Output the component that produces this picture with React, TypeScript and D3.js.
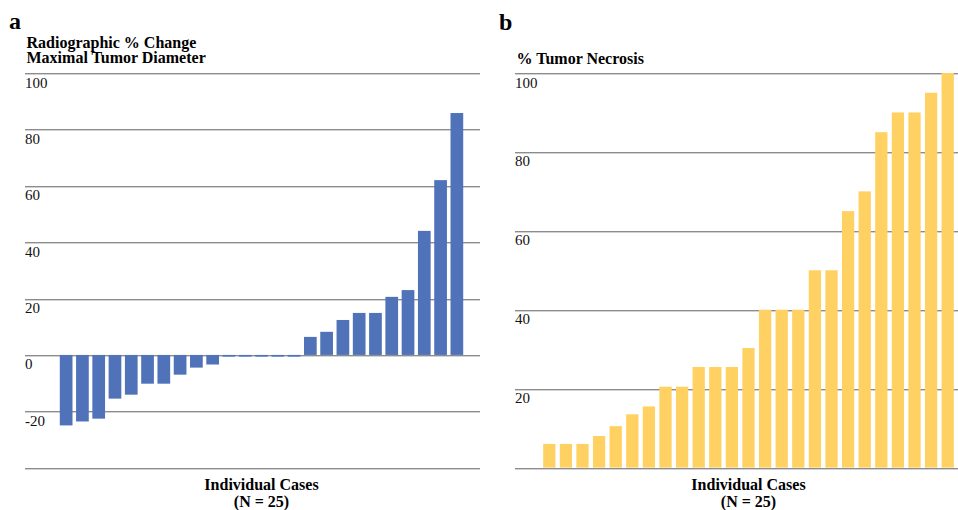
import * as d3 from 'd3';

// Panel a: radiographic % change in maximal tumor diameter, sorted
const changeValues = [
  -25, -23.6, -22.6, -15.5, -14.1, -10.2, -10.2, -7, -4.5, -3.4,
  -0.6, -0.6, -0.6, -0.6, -0.6, 6.4, 8.2, 12.4, 14.9, 14.9,
  20.6, 23, 44, 62, 85.8,
];
const changeTicks = [100, 80, 60, 40, 20, 0, -20];
const changeGrid = [100, 80, 60, 40, 20, 0, -20, -40];

// Panel b: % tumor necrosis, sorted
const necrosisValues = [
  6, 6, 6, 8, 10.5, 13.5, 15.5, 20.5, 20.5, 25.5,
  25.5, 25.5, 30.3, 40, 40, 40, 50, 50, 65, 70,
  85, 90, 90, 95, 100,
];
const necrosisTicks = [100, 80, 60, 40, 20];
const necrosisGrid = [100, 80, 60, 40, 20, 0];

const cases = d3.range(1, 26).map(String);

const FONT = '"Liberation Serif", "Times New Roman", serif';
const BLUE = '#4f72b8';
const YELLOW = '#fed162';

function GridLine({ x1, x2, y }: { x1: number; x2: number; y: number }) {
  const yy = Math.round(y);
  return (
    <g>
      <line x1={x1} x2={x2} y1={yy + 0.5} y2={yy + 0.5} stroke="#8c8c8c" strokeWidth={1} />
      <line x1={x1} x2={x2} y1={yy + 1.5} y2={yy + 1.5} stroke="#d2d2d2" strokeWidth={1} />
    </g>
  );
}

export default function App() {
  // scales for panel a
  const xA = d3.scaleBand<string>().domain(cases).range([58, 465]).paddingInner(0.22).paddingOuter(0.11);
  const yA = d3.scaleLinear().domain([-40, 100]).range([467.7, 73]);

  // scales for panel b
  const xB = d3.scaleBand<string>().domain(cases).range([541, 956]).paddingInner(0.26).paddingOuter(0.13);
  const yB = d3.scaleLinear().domain([0, 100]).range([467.6, 73]);

  const centerA = (58 + 465) / 2;
  const centerB = (541 + 956) / 2;

  return (
    <svg
      width={958}
      height={510}
      style={{ position: 'absolute', left: 0, top: 0, background: '#fff' }}
      fontFamily={FONT}
    >
      {/* panel a */}
      <text x={9} y={29} fontSize={24} fontWeight="bold">a</text>
      <text x={26.5} y={47.5} fontSize={16} fontWeight="bold">Radiographic % Change</text>
      <text x={26.5} y={63} fontSize={16} fontWeight="bold">Maximal Tumor Diameter</text>
      {changeGrid.map((t) => (
        <GridLine key={t} x1={25} x2={480} y={yA(t)} />
      ))}
      {changeTicks.map((t) => (
        <text key={t} x={25} y={yA(t) + 14.5} fontSize={15} fill="#111">{t}</text>
      ))}
      {changeValues.map((v, i) => (
        <rect
          key={i}
          x={xA(cases[i])}
          y={yA(Math.max(0, v))}
          width={xA.bandwidth()}
          height={Math.abs(yA(v) - yA(0))}
          fill={BLUE}
        />
      ))}
      <text x={centerA} y={490} fontSize={16} fontWeight="bold" textAnchor="middle">Individual Cases</text>
      <text x={centerA} y={507} fontSize={16} fontWeight="bold" textAnchor="middle">(N = 25)</text>

      {/* panel b */}
      <text x={499} y={30} fontSize={24} fontWeight="bold">b</text>
      <text x={516.5} y={64} fontSize={16} fontWeight="bold">% Tumor Necrosis</text>
      {necrosisGrid.map((t) => (
        <GridLine key={t} x1={515} x2={958} y={yB(t)} />
      ))}
      {necrosisTicks.map((t) => (
        <text key={t} x={515} y={yB(t) + 14.5} fontSize={15} fill="#111">{t}</text>
      ))}
      {necrosisValues.map((v, i) => (
        <rect
          key={i}
          x={xB(cases[i])}
          y={yB(v)}
          width={xB.bandwidth()}
          height={yB(0) - yB(v)}
          fill={YELLOW}
        />
      ))}
      <text x={centerB} y={490} fontSize={16} fontWeight="bold" textAnchor="middle">Individual Cases</text>
      <text x={centerB} y={507} fontSize={16} fontWeight="bold" textAnchor="middle">(N = 25)</text>
    </svg>
  );
}
